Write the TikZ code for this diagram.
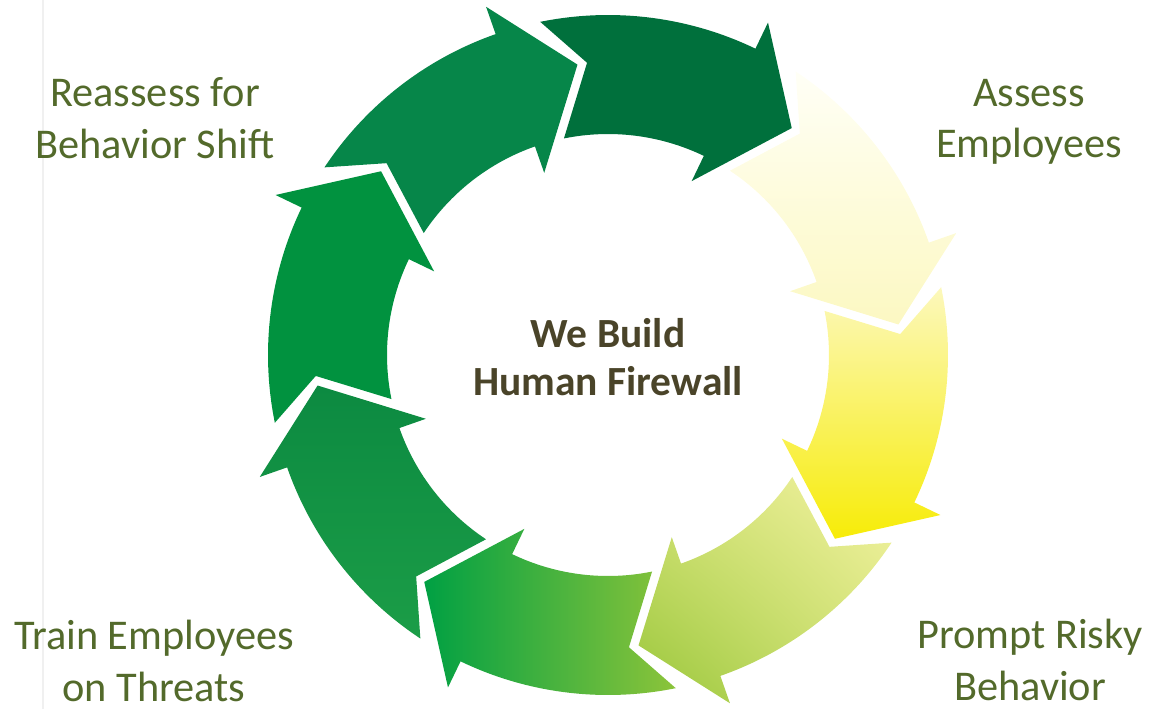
\documentclass[tikz,border=0pt]{standalone}
\usepackage{fontspec}
\setmainfont{Carlito}
\usetikzlibrary{shadings}

\definecolor{olivetext}{HTML}{536A2B}
\definecolor{hubtext}{HTML}{4A4429}
\definecolor{topgreen}{HTML}{00703C}
\definecolor{nwgreen}{HTML}{068649}
\definecolor{wgreen}{HTML}{01923F}
\definecolor{swgreenA}{HTML}{0C8A41}
\definecolor{swgreenB}{HTML}{1B9D47}
\definecolor{sgreenA}{HTML}{00A043}
\definecolor{sgreenM}{HTML}{58B334}
\definecolor{sgreenB}{HTML}{8CC43A}
\definecolor{paleA}{HTML}{FFFFF6}
\definecolor{paleB}{HTML}{FCF8C2}
\definecolor{yellowA}{HTML}{FCF8BC}
\definecolor{yellowM}{HTML}{FAF27C}
\definecolor{yellowB}{HTML}{F7EC08}
\definecolor{limeA}{HTML}{F4F3A4}
\definecolor{limeM}{HTML}{D2E274}
\definecolor{limeB}{HTML}{98C63A}

\newcommand{\ringarrow}[2]{%
  \path[#2] ({#1+37.2}:3.40) arc[start angle={#1+37.2}, end angle={#1}, radius=3.40]
    -- (#1:3.69) -- ({#1-13.3}:2.92) -- (#1:1.93) -- (#1:2.21)
    arc[start angle={#1}, end angle={#1+37.2}, radius=2.21]
    -- ({#1+29.8}:2.93) -- cycle;}

\begin{document}
\begin{tikzpicture}
    \tikzstyle{cornertxt}=[align=center,text=olivetext,inner sep=0pt,font=\fontsize{12.05}{14.6}\selectfont]
    \tikzstyle{hubtxt}=[align=center,text=hubtext,inner sep=0pt,font=\fontsize{11.8}{13.5}\selectfont\bfseries]

    \useasboundingbox (0,0) rectangle (11.74,7.09);
    \draw[black!6, line width=0.5pt] (0.43,0) -- (0.43,7.09);

    \coordinate (c) at (6.08,3.54);
    \begin{scope}[shift={(c)}]
        \ringarrow{64.3}{fill=topgreen}
        \ringarrow{19.3}{top color=paleA, bottom color=paleB}
        \ringarrow{-25.7}{top color=yellowA, middle color=yellowM, bottom color=yellowB}
        \ringarrow{-70.7}{upper right=limeA, upper left=limeM, lower right=limeM, lower left=limeB}
        \ringarrow{-115.7}{left color=sgreenA, middle color=sgreenM, right color=sgreenB}
        \ringarrow{-160.7}{top color=swgreenA, bottom color=swgreenB}
        \ringarrow{154.3}{fill=wgreen}
        \ringarrow{109.3}{fill=nwgreen}
    \end{scope}

    \node (hub)[hubtxt] at (6.08,3.52) {We Build\\Human Firewall};
    \node (reassess)[cornertxt] at (1.55,5.91) {Reassess for\\Behavior Shift};
    \node (assess)[cornertxt] at (10.29,5.87) {Assess\\Employees};
    \node (prompt)[cornertxt] at (10.30,0.49) {Prompt Risky\\Behavior};
    \node (train)[cornertxt] at (1.54,0.48) {Train Employees\\on Threats};
\end{tikzpicture}
\end{document}
